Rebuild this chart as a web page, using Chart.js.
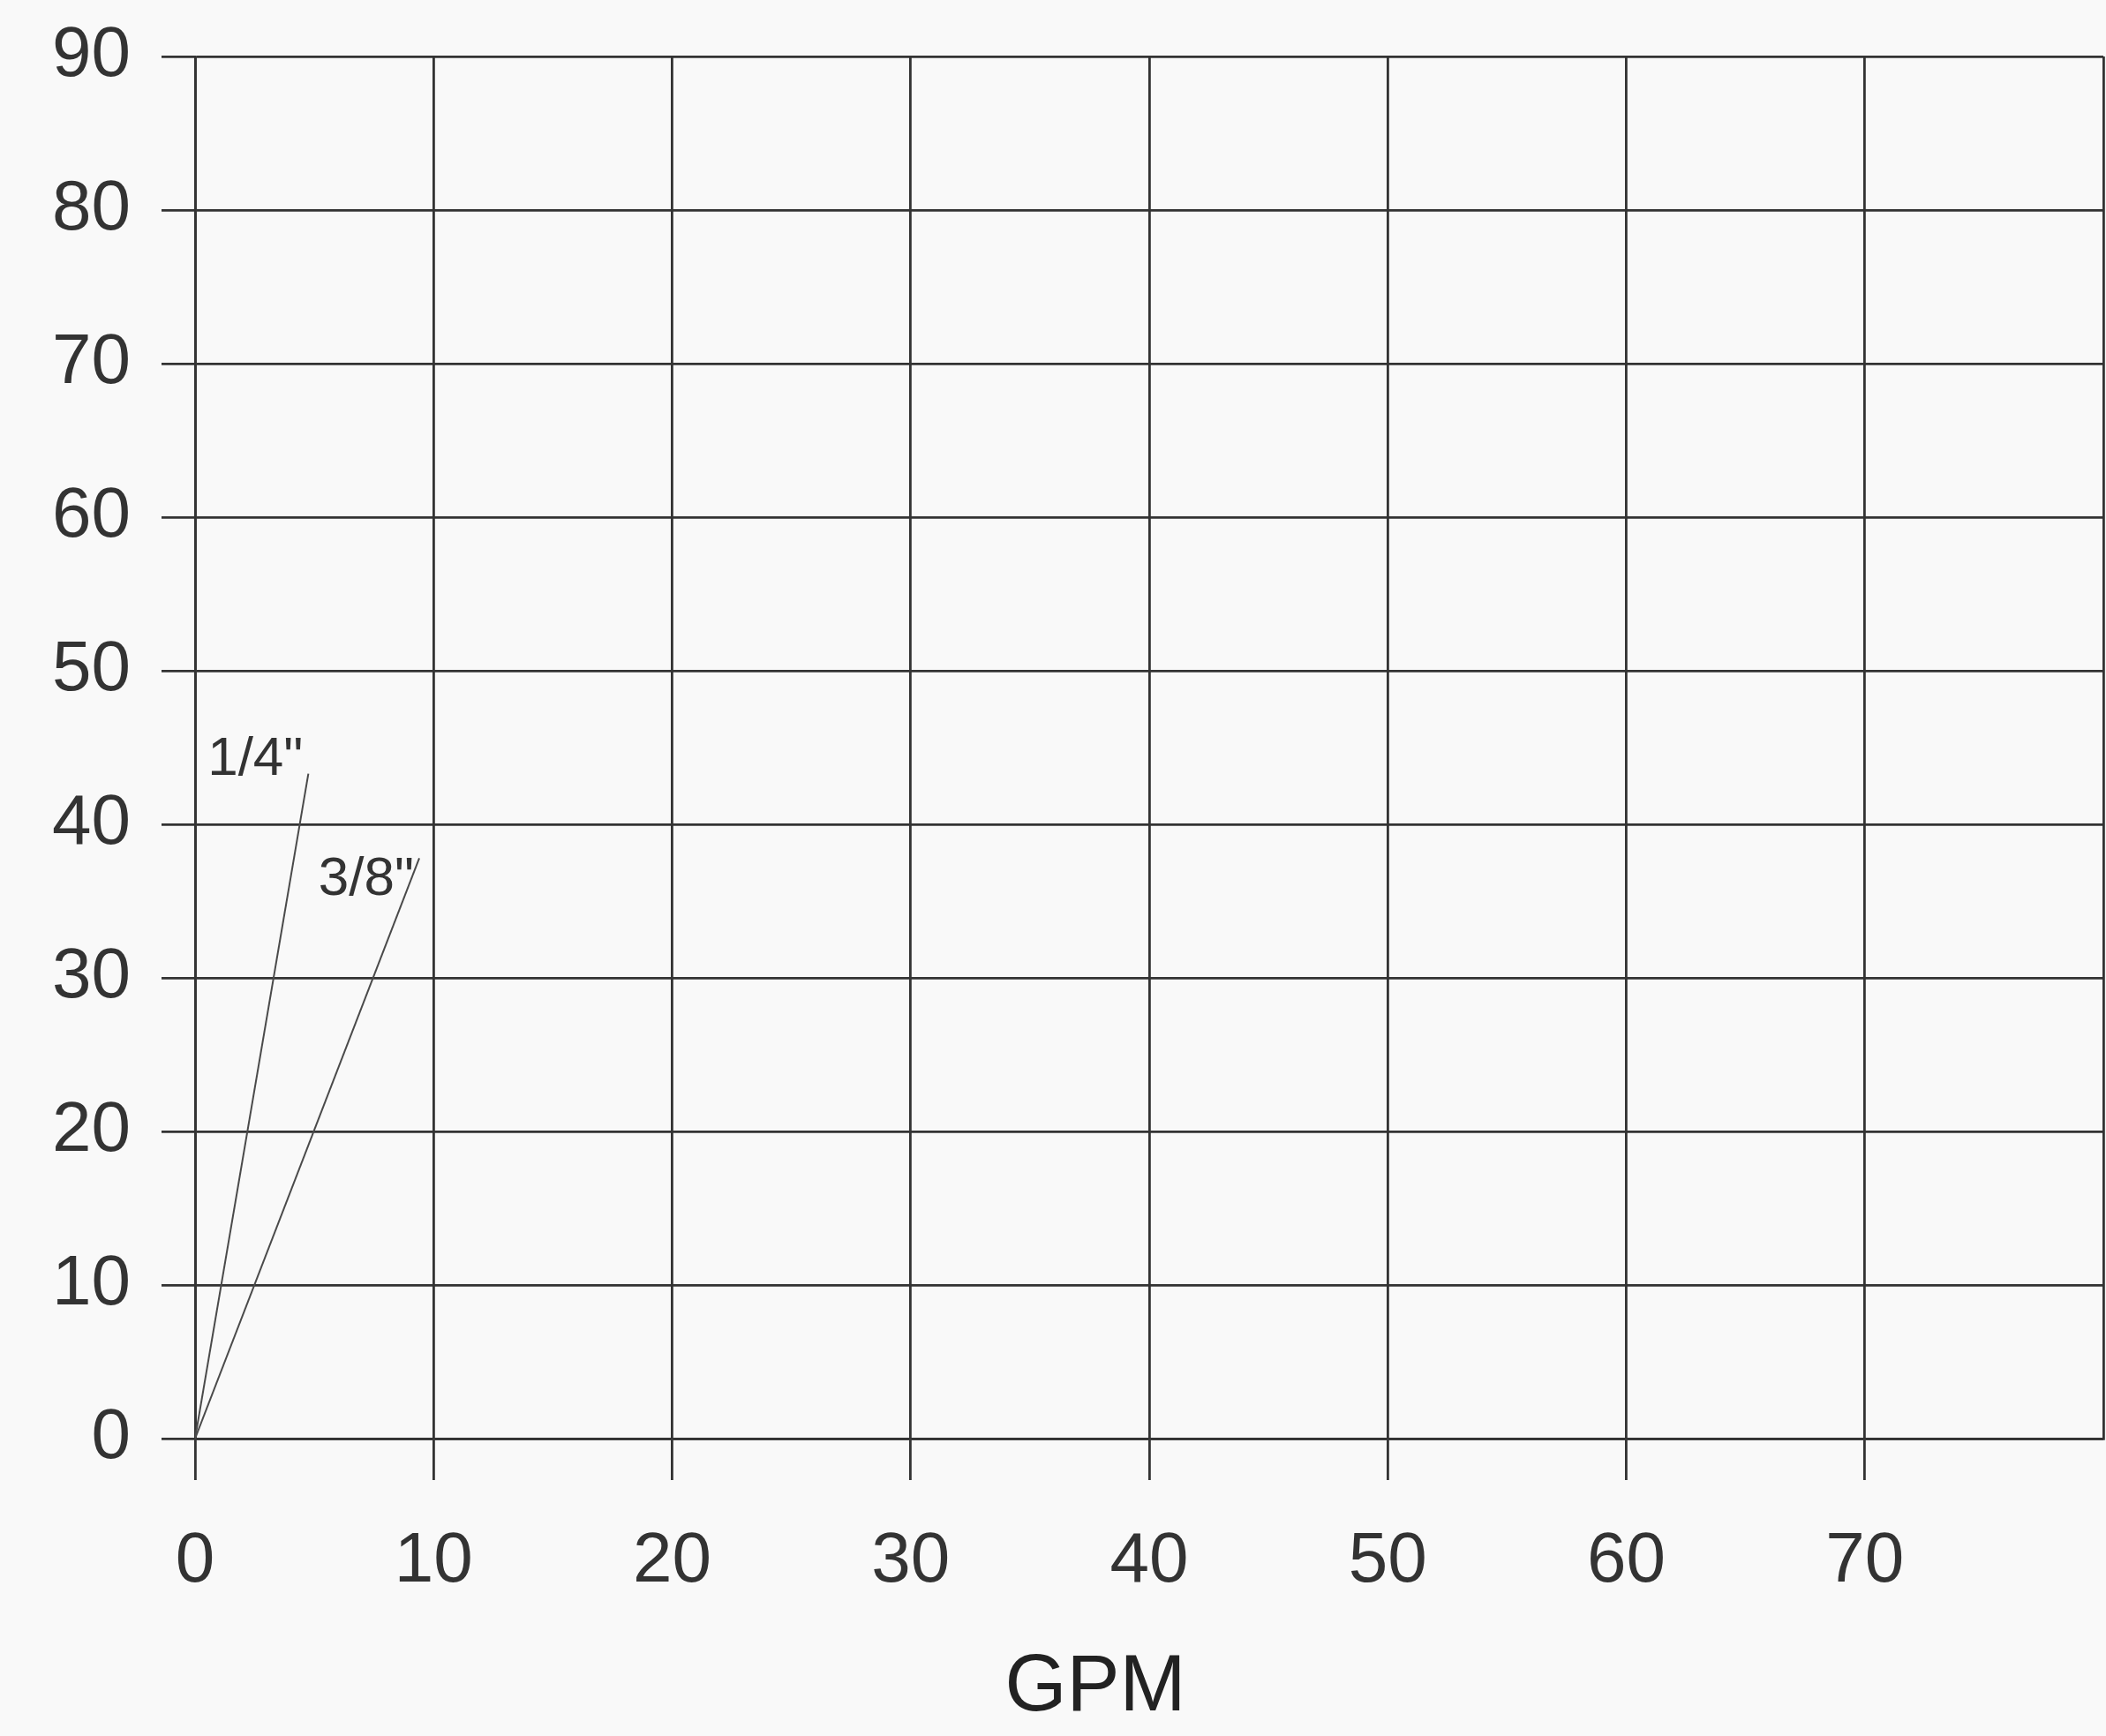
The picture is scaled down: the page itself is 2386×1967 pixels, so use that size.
<!DOCTYPE html>
<html>
<head>
<meta charset="utf-8">
<title>GPM chart</title>
<script src="https://cdn.jsdelivr.net/npm/chart.js@4.4.1/dist/chart.umd.min.js"></script>
<style>
    html, body { margin: 0; padding: 0; background: #f9f9f9; }
    #wrap { width: 2386px; height: 1967px; position: relative; }
</style>
</head>
<body>
<div id="wrap"><canvas id="flowChart"></canvas></div>
<script>
// hose sizes and their curves (GPM vs pressure)
const hoseSizes = ['1/4"', '3/8"'];
const quarterGpm = [0, 4.75];
const quarterPsi = [0, 43.3];
const threeEighthGpm = [0, 9.4];
const threeEighthPsi = [0, 37.8];

// axis ticks
const gpmTicks = [0, 10, 20, 30, 40, 50, 60, 70, 80];
const psiTicks = [0, 10, 20, 30, 40, 50, 60, 70, 80, 90];
const xTitle = 'GPM';

const gridColor = '#333333';
const textColor = '#333333';
const fontFamily = '"Liberation Sans", Arial, Helvetica, sans-serif';

function toPoints(xs, ys) {
    return xs.map((x, i) => ({ x: x, y: ys[i] }));
}

// label offsets (pixels) from the end of each line
const labelOffsets = [{ dx: -6, dy: 1 }, { dx: -6, dy: 42 }];

const endLabels = {
    id: 'endLabels',
    afterDatasetsDraw(chart) {
        const ctx = chart.ctx;
        ctx.save();
        ctx.font = '62px ' + fontFamily;
        ctx.fillStyle = textColor;
        ctx.textAlign = 'right';
        ctx.textBaseline = 'alphabetic';
        chart.data.datasets.forEach((ds, i) => {
            const pts = chart.getDatasetMeta(i).data;
            const last = pts[pts.length - 1];
            const off = labelOffsets[i];
            ctx.fillText(ds.label, last.x + off.dx, last.y + off.dy);
        });
        ctx.restore();
    }
};

// x axis title, sits a little left of the plot centre like the original
const axisTitle = {
    id: 'axisTitle',
    afterDraw(chart) {
        const ctx = chart.ctx;
        const area = chart.chartArea;
        const xScale = chart.scales.x;
        ctx.save();
        ctx.font = '90px ' + fontFamily;
        ctx.fillStyle = '#222222';
        ctx.textAlign = 'center';
        ctx.textBaseline = 'middle';
        ctx.fillText(xTitle, (area.left + area.right) / 2 - 61, xScale.bottom - 54);
        ctx.restore();
    }
};

new Chart(document.getElementById('flowChart'), {
    type: 'line',
    data: {
        datasets: [{
            label: hoseSizes[0],
            data: toPoints(quarterGpm, quarterPsi),
            borderColor: '#4a4a4a',
            borderWidth: 2,
            pointRadius: 0,
            tension: 0
        }, {
            label: hoseSizes[1],
            data: toPoints(threeEighthGpm, threeEighthPsi),
            borderColor: '#4a4a4a',
            borderWidth: 2,
            pointRadius: 0,
            tension: 0
        }]
    },
    options: {
        responsive: true,
        maintainAspectRatio: false,
        animation: false,
        layout: {
            padding: { left: 24, top: 64, right: 3, bottom: 0 }
        },
        plugins: {
            legend: { display: false },
            tooltip: { enabled: false }
        },
        scales: {
            x: {
                type: 'linear',
                min: gpmTicks[0],
                max: gpmTicks[gpmTicks.length - 1],
                afterBuildTicks: (axis) => { axis.ticks = gpmTicks.map(v => ({ value: v })); },
                afterFit: (axis) => {
                    axis.height = 337;
                    axis.paddingLeft = 0;
                    axis.paddingRight = 0;
                },
                grid: {
                    color: gridColor,
                    lineWidth: 2.8,
                    tickLength: 47,
                    tickColor: (c) => (c.tick && c.tick.value === gpmTicks[gpmTicks.length - 1]) ? 'rgba(0,0,0,0)' : gridColor
                },
                border: { color: gridColor, width: 2.8 },
                ticks: {
                    color: textColor,
                    padding: 45,
                    maxRotation: 0,
                    font: { family: fontFamily, size: 80 },
                    callback: (v) => v === gpmTicks[gpmTicks.length - 1] ? '' : String(v)
                }
            },
            y: {
                type: 'linear',
                min: psiTicks[0],
                max: psiTicks[psiTicks.length - 1],
                afterBuildTicks: (axis) => { axis.ticks = psiTicks.map(v => ({ value: v })); },
                afterFit: (axis) => {
                    axis.paddingTop = 0;
                    axis.paddingBottom = 0;
                },
                grid: {
                    color: gridColor,
                    lineWidth: 2.8,
                    tickLength: 38
                },
                border: { color: gridColor, width: 2.8 },
                ticks: {
                    color: textColor,
                    padding: 35,
                    font: { family: fontFamily, size: 80 }
                }
            }
        }
    },
    plugins: [endLabels, axisTitle]
});
</script>
</body>
</html>
